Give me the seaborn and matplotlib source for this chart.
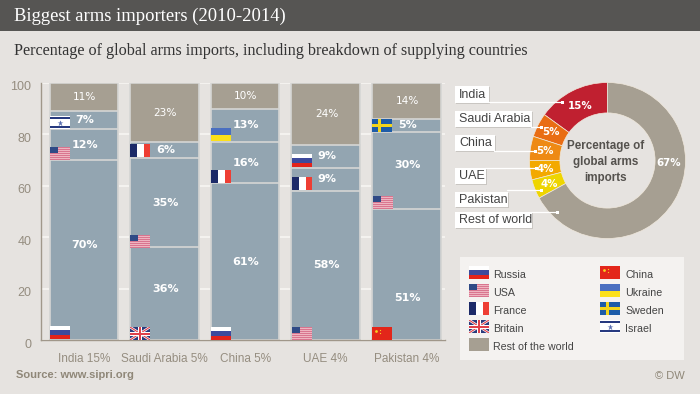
import numpy as np
import matplotlib
matplotlib.use("Agg")
import matplotlib.pyplot as plt
from matplotlib.patches import Rectangle
from matplotlib.transforms import ScaledTranslation
import seaborn as sns

# Data
countries = ["India 15%", "Saudi Arabia 5%", "China 5%", "UAE 4%", "Pakistan 4%"]
supplier_1 = np.array([70, 36, 61, 58, 51])
supplier_2 = np.array([12, 35, 16, 9, 30])
supplier_3 = np.array([7, 6, 13, 9, 5])
rest_share = np.array([11, 23, 10, 24, 14])
y_ticks = [0, 20, 40, 60, 80, 100]

donut_names = ["India", "Saudi Arabia", "China", "UAE", "Pakistan", "Rest of world"]
donut_values = [15, 5, 5, 4, 4, 67]
donut_colors = ["#c02030", "#e96d14", "#ee8a14", "#f3a900", "#eed500", "#a69f92"]

legend_left = ["Russia", "USA", "France", "Britain"]
legend_right = ["China", "Ukraine", "Sweden", "Israel"]

BG = "#e6e3e0"
BAR = "#93a5b1"
TAN = "#a69f92"
W, H = 700, 394

sns.set_style("white")
plt.rcParams["font.family"] = ["Liberation Sans", "DejaVu Sans"]

fig = plt.figure(figsize=(7, 3.94), dpi=100, facecolor=BG)


def px_axes(x0, y0, x1, y1, **kw):
    return fig.add_axes([x0 / W, 1 - y1 / H, (x1 - x0) / W, (y1 - y0) / H], **kw)


# Stacked bars, tallest layer first
ax = px_axes(41, 83, 445, 340, zorder=2)
ax.set_facecolor("none")
layers = [
    (supplier_1 + supplier_2 + supplier_3 + rest_share, TAN),
    (supplier_1 + supplier_2 + supplier_3, BAR),
    (supplier_1 + supplier_2, BAR),
    (supplier_1, BAR),
]
for cum, col in layers:
    sns.barplot(x=countries, y=cum, color=col, saturation=1, width=0.85,
                edgecolor="#d6d6d4", linewidth=1.2, ax=ax, zorder=2)
ax.set_xlim(-0.533, 4.48)
ax.set_ylim(0, 100)
ax.set_yticks(y_ticks)
ax.yaxis.grid(True, color="#f6f4f1", lw=1.3, zorder=0)
ax.set_axisbelow(True)
ax.tick_params(axis="both", length=0, colors="#958d80")
ax.tick_params(axis="y", labelsize=9, pad=7)
ax.tick_params(axis="x", labelsize=8.5, pad=9)
# y labels sit a little under their gridline in the original
for lab in ax.get_yticklabels():
    lab.set_transform(lab.get_transform() + ScaledTranslation(0, -3 / 100, fig.dpi_scale_trans))
sns.despine(ax=ax)
for side in ["left", "bottom"]:
    ax.spines[side].set_color("#a0978a")
    ax.spines[side].set_linewidth(1)

# Percent labels on the bars
nudge = {(0, 0): 2, (1, 0): 2, (4, 0): -9, (4, 1): 2}
for i in range(len(countries)):
    base = 0
    for j, vals in enumerate([supplier_1, supplier_2, supplier_3, rest_share]):
        y = base + vals[i] / 2 + nudge.get((i, j), 0)
        base += vals[i]
        if j == 3:
            ax.text(i + 0.01, y, f"{vals[i]}%", color="white", fontsize=7.6,
                    family="DejaVu Sans", ha="center", va="center")
        else:
            ax.text(i + 0.01, y, f"{vals[i]}%", color="white", fontsize=8,
                    family="DejaVu Sans", weight="bold", ha="center", va="center")

# Donut
dax = px_axes(529.5, 82.5, 685.5, 238.5, zorder=2)
dax.pie(donut_values, colors=donut_colors, startangle=90, counterclock=True, radius=1,
        wedgeprops=dict(width=0.39, edgecolor="#f0e8dc", linewidth=0.5))
dax.set_xlim(-1, 1)
dax.set_ylim(-1, 1)

# Pixel overlay for header, flags, boxes and notes
ov = fig.add_axes([0, 0, 1, 1], zorder=3)
ov.set_xlim(0, W)
ov.set_ylim(H, 0)
ov.axis("off")
ov.patch.set_alpha(0)


def box(x, y, w, h, c, z=2, **kw):
    r = Rectangle((x, y), w, h, facecolor=c, edgecolor="none", zorder=z, **kw)
    ov.add_patch(r)
    return r


def draw_flag(name, x, y):
    w, h = 20, 13
    if name == "Russia":
        box(x, y, w, h / 3, "#ffffff", 4)
        box(x, y + h / 3, w, h / 3, "#3d4a9c", 4)
        box(x, y + 2 * h / 3, w, h / 3, "#e3231a", 4)
    elif name == "USA":
        box(x, y, w, h, "#eeb4c0", 4)
        for k in range(0, 7):
            box(x, y + k * 2, w, 1, "#d9758f", 4)
        box(x, y, 8, 6, "#2f4a86", 5)
    elif name == "France":
        box(x, y, 7, h, "#1c2a68", 4)
        box(x + 7, y, 7, h, "#ffffff", 4)
        box(x + 14, y, 6, h, "#ee3e34", 4)
    elif name == "Britain":
        clip = box(x, y, w, h, "#2a3a7c", 4)
        for a, b in [((x, y), (x + w, y + h)), ((x, y + h), (x + w, y))]:
            ln, = ov.plot([a[0], b[0]], [a[1], b[1]], color="white", lw=1.8, zorder=5, solid_capstyle="butt")
            ln.set_clip_path(clip)
            ln, = ov.plot([a[0], b[0]], [a[1], b[1]], color="#e0404a", lw=0.8, zorder=5, solid_capstyle="butt")
            ln.set_clip_path(clip)
        box(x + 8, y, 4, h, "#ffffff", 6)
        box(x, y + 4.5, w, 4, "#ffffff", 6)
        box(x + 9, y, 2, h, "#e0404a", 7)
        box(x, y + 5.5, w, 2, "#e0404a", 7)
    elif name == "China":
        box(x, y, w, h, "#e3261a", 4)
        ov.plot([x + 4], [y + 3.5], "o", ms=2, color="#f7d020", mec="none", zorder=5)
        ov.plot([x + 7.5], [y + 2.5], "o", ms=0.9, color="#f7d020", mec="none", zorder=5)
        ov.plot([x + 7.5], [y + 5.5], "o", ms=0.9, color="#f7d020", mec="none", zorder=5)
    elif name == "Ukraine":
        box(x, y, w, h / 2, "#4a6fc0", 4)
        box(x, y + h / 2, w, h / 2, "#fbe01a", 4)
    elif name == "Sweden":
        box(x, y, w, h, "#1d5ca8", 4)
        box(x + 6, y, 3, h, "#f3d51c", 5)
        box(x, y + 5, w, 3, "#f3d51c", 5)
    elif name == "Israel":
        box(x, y, w, h, "#ffffff", 4)
        box(x, y + 1, w, 2, "#26397f", 5)
        box(x, y + h - 3, w, 2, "#26397f", 5)
        ov.plot([x + 10], [y + 6.5], "*", ms=4.5, color="#5a6fb0", mec="none", zorder=5)


# Header
box(0, 0, W, 31, "#565553", 1)
ov.text(14, 16, "Biggest arms importers (2010-2014)", color="white", fontsize=13.4,
        family="Liberation Serif", va="center")
ov.text(14, 51, "Percentage of global arms imports, including breakdown of supplying countries",
        color="#333333", fontsize=11.65, family="Liberation Serif", va="center")

# Flags on the bars
bar_flags = [
    ("Israel", 50, 116), ("USA", 50, 147), ("Russia", 50, 326),
    ("France", 130, 144), ("USA", 130, 235), ("Britain", 130, 327),
    ("Ukraine", 211, 128), ("France", 211, 170), ("Russia", 211, 327),
    ("Russia", 292, 154), ("France", 292, 177), ("USA", 292, 327),
    ("Sweden", 372, 119), ("USA", 373, 196), ("China", 372, 327),
]
for name, x, y in bar_flags:
    draw_flag(name, x, y)

# Donut callouts
callouts = [
    (455, 86, 34, 17, 102, 562),
    (455, 111, 77, 16, 127, 541),
    (455, 135, 40, 16, 151, 535),
    (455, 168, 31, 16, 168, 536),
    (455, 192, 53, 15, 190, 541),
    (455, 212, 77, 16, 212, 557),
]
for name, (x, y, w, h, ly, lx) in zip(donut_names, callouts):
    box(x + 1, y + 1, w, h, "#c9c6c2", 2)
    box(x, y, w, h, "white", 3)
    ov.plot([x + w - 1, lx], [ly, ly], color="white", lw=0.9, zorder=2.5)
    box(lx - 1, ly - 1, 3, 3, "white", 3)
    ov.text(x + 4, y + h / 2 + 0.3, name, color="#444444", fontsize=9, va="center", zorder=6)

donut_label_pos = [(580, 106), (551, 132), (545, 151), (545, 169), (549, 184), (669, 163)]
for val, (x, y) in zip(donut_values, donut_label_pos):
    ov.text(x, y, f"{val}%", color="white", fontsize=7.4, family="DejaVu Sans", weight="bold",
            ha="center", va="center", zorder=6)

for y, line in zip([146, 162, 178], ["Percentage of", "global arms", "imports"]):
    ov.text(606, y, line, color="#55524e", fontsize=8.4, weight="bold",
            ha="center", va="center")

# Legend
box(460, 257, 224, 103, "#f4f2f0", 1)
rows_y = [266, 284, 302, 320]
for name, y in zip(legend_left, rows_y):
    draw_flag(name, 469, y)
    ov.text(493, y + 9, name, color="#444444", fontsize=7.7, va="center")
for name, y in zip(legend_right, rows_y):
    draw_flag(name, 600, y)
    ov.text(625, y + 9, name, color="#444444", fontsize=7.7, va="center")
box(469, 338, 20, 13, TAN, 4)
ov.text(493, 347, "Rest of the world", color="#444444", fontsize=7.7, va="center")

# Notes
ov.text(16, 375, "Source: www.sipri.org", color="#8f8778", fontsize=8, weight="bold", va="center")
ov.text(685, 376, "© DW", color="#8f8778", fontsize=8, ha="right", va="center")

fig.savefig("out.png", dpi=100, facecolor=BG)
